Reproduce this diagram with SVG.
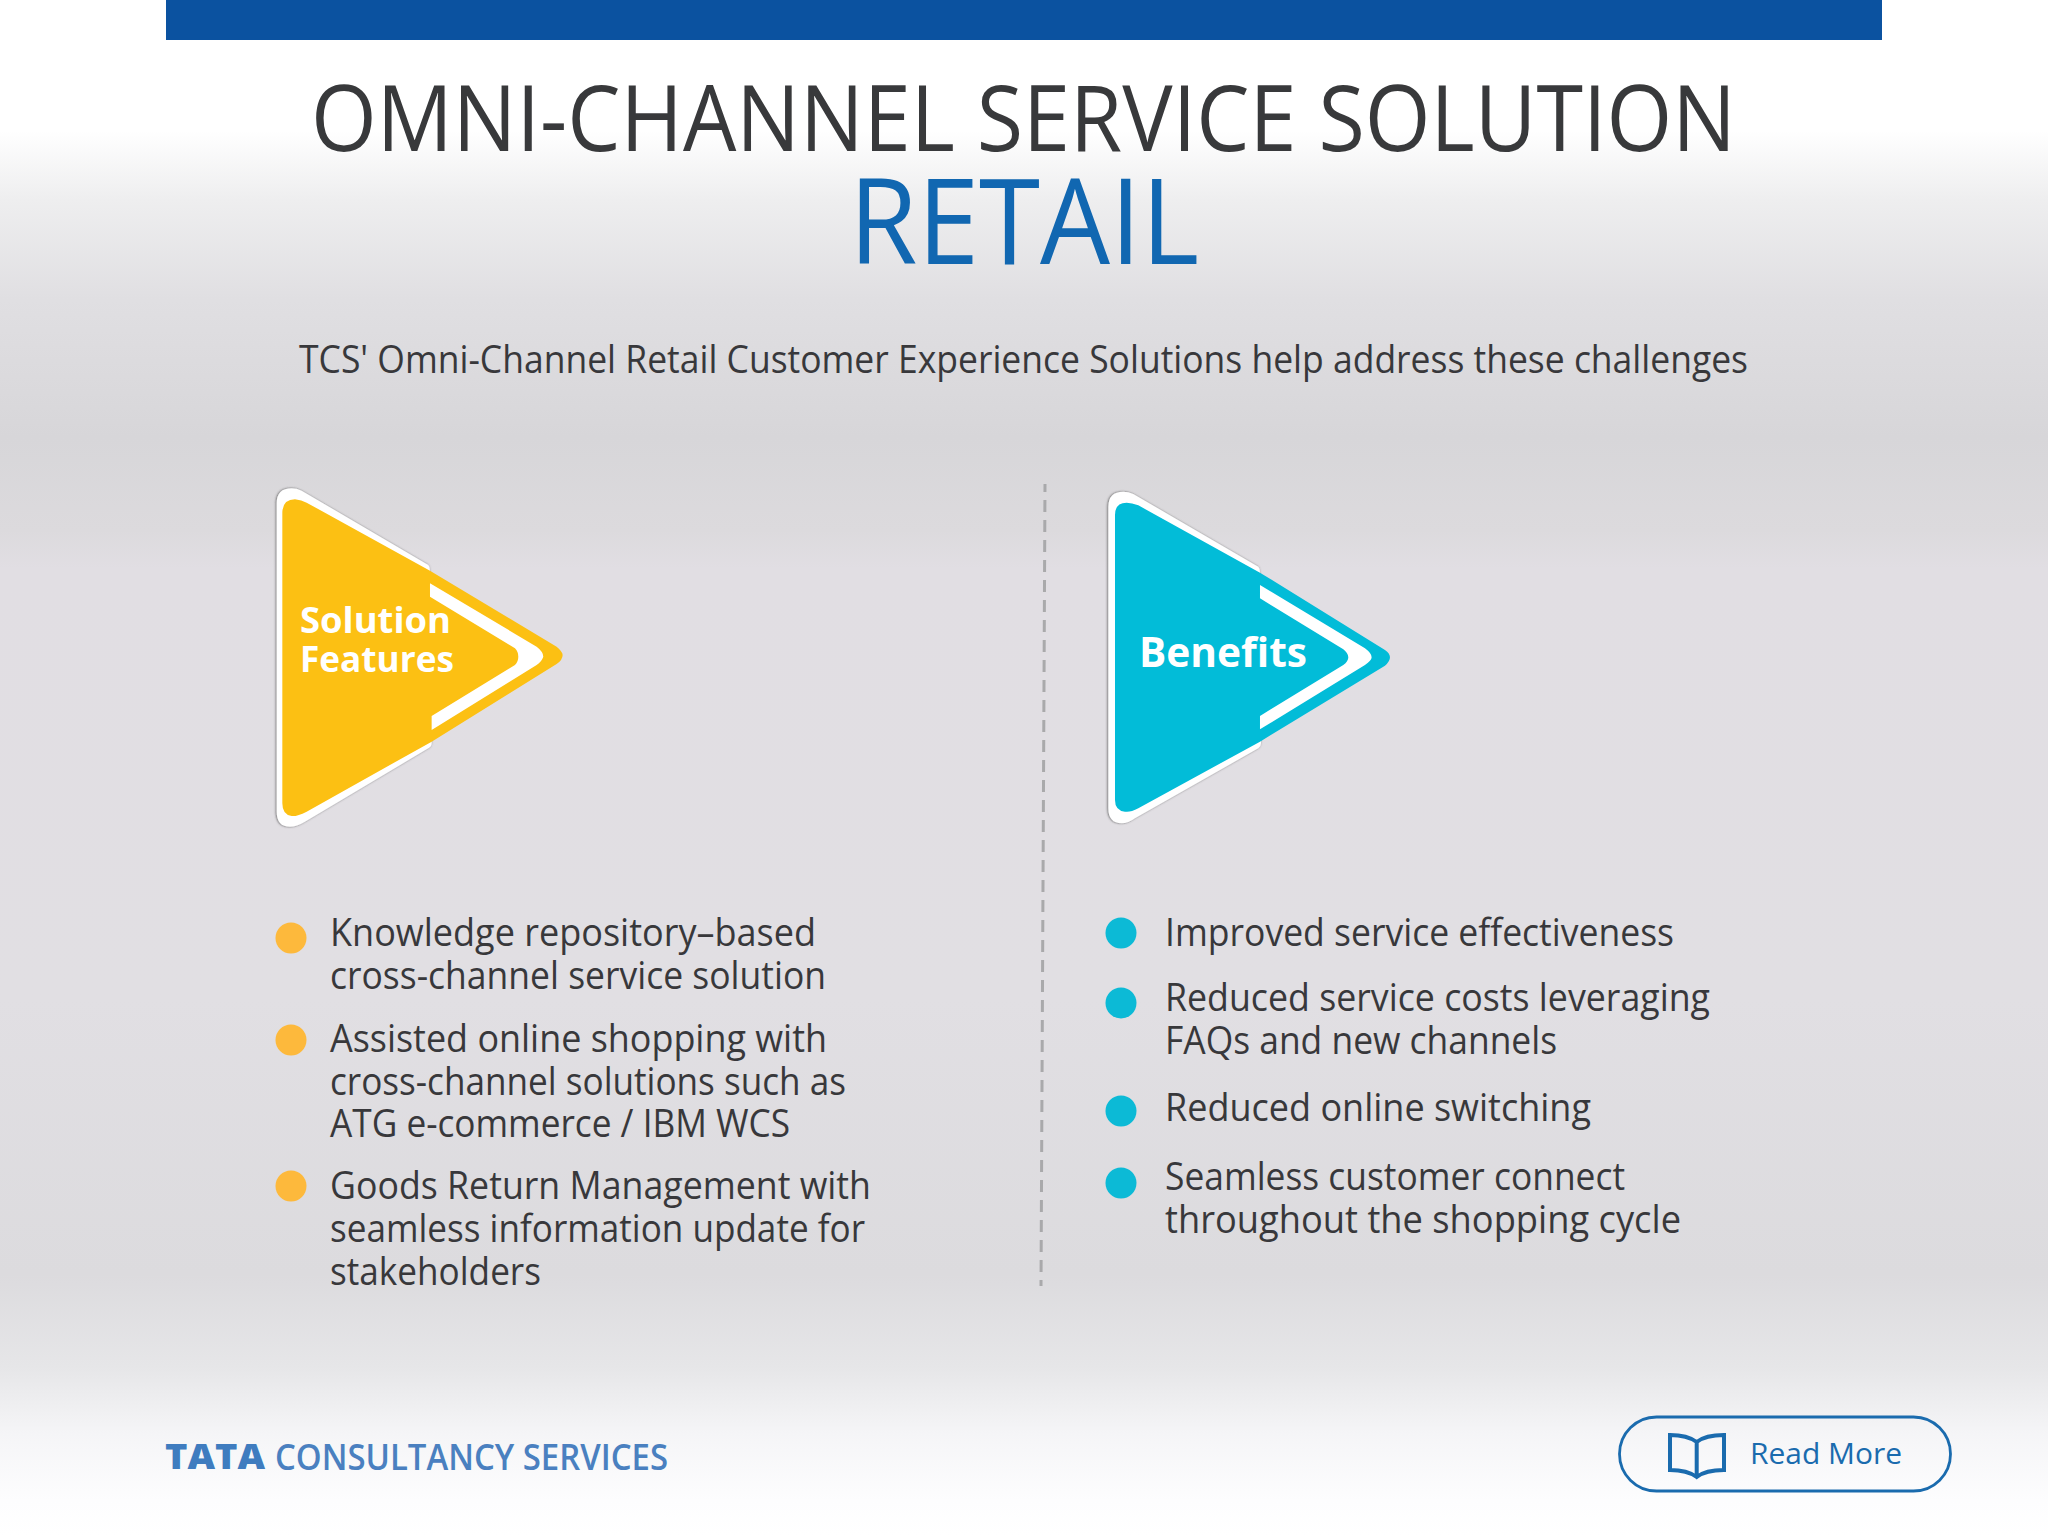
<svg xmlns="http://www.w3.org/2000/svg" width="2048" height="1536" viewBox="0 0 2048 1536">
<style>
text{font-family:"Open Sans","Noto Sans","Liberation Sans",sans-serif}
.body{font-size:38px;fill:#38383b}
.tag{font-weight:700;fill:#fff}
.white{fill:#fff;filter:url(#edge)}
.ybul{fill:#fdb93c}
.cbul{fill:#0cbad6}
</style>
<defs>
<linearGradient id="bg" gradientUnits="userSpaceOnUse" x1="0" y1="0" x2="0" y2="1536">
<stop offset="0" stop-color="#fff"/>
<stop offset="0.085" stop-color="#fff"/>
<stop offset="0.13" stop-color="#eeeeef"/>
<stop offset="0.195" stop-color="#e0dfe2"/>
<stop offset="0.285" stop-color="#d7d6d9"/>
<stop offset="0.345" stop-color="#dcdadd"/>
<stop offset="0.37" stop-color="#e1dee3"/>
<stop offset="0.65" stop-color="#e1dfe3"/>
<stop offset="0.83" stop-color="#dcdbde"/>
<stop offset="0.89" stop-color="#e6e6e8"/>
<stop offset="0.933" stop-color="#f5f5f7"/>
<stop offset="0.977" stop-color="#fdfdfe"/>
<stop offset="1" stop-color="#fff"/>
</linearGradient>
<filter id="edge" x="-5%" y="-5%" width="110%" height="110%"><feDropShadow dx="-2" dy="0" stdDeviation="3.5" flood-color="#444" flood-opacity="0.85"/></filter>
</defs>
<rect id="background" width="2048" height="1536" fill="url(#bg)"/>
<rect id="top-bar" x="166" y="0" width="1716" height="40" fill="#0b52a0"/>
<g id="heading">
<text x="311" y="151" font-size="91" fill="#38393b" textLength="1425" lengthAdjust="spacingAndGlyphs">OMNI-CHANNEL SERVICE SOLUTION</text>
<text x="849" y="264" font-size="119" fill="#1167b1" textLength="350" lengthAdjust="spacingAndGlyphs">RETAIL</text>
<text x="299" y="373" font-size="38" fill="#38383b" textLength="1449" lengthAdjust="spacingAndGlyphs">TCS' Omni-Channel Retail Customer Experience Solutions help address these challenges</text>
</g>
<g id="connectors">
<line x1="1045" y1="484" x2="1041" y2="1286" stroke="#a9a9ab" stroke-width="3" stroke-dasharray="12 8" stroke-dashoffset="4"/>
</g>
<g id="solution-features">
<g transform="translate(240 450) scale(.3333)">
<path class="white" d="M110 160Q110 115 155 115Q170 115 185 122L565 345Q570 350 570 362L575 880Q575 890 565 895L195 1115Q170 1130 150 1130Q110 1130 110 1085Z"/>
<path fill="#fcc013" d="M127 190Q127 148 165 148Q185 150 200 158L570 362L950 590Q968 605 968 615Q968 630 950 642L575 875L200 1085Q170 1100 155 1098Q127 1095 127 1060Z"/>
<path fill="#fff" d="M570 400L890 590Q910 605 910 620Q905 635 890 645L575 840L575 798L825 645Q835 635 835 620Q835 605 825 595L570 440Z"/>
</g>
<text class="tag" x="300" y="633" font-size="35" textLength="151" lengthAdjust="spacingAndGlyphs">Solution</text>
<text class="tag" x="300" y="672" font-size="35" textLength="154" lengthAdjust="spacingAndGlyphs">Features</text>
</g>
<g id="benefits">
<g transform="translate(1080 450) scale(.3333)">
<path class="white" d="M85 170Q85 125 130 125Q145 125 160 132L535 350Q540 355 540 367L543 880Q543 890 535 895L165 1105Q145 1120 125 1120Q85 1120 85 1075Z"/>
<path fill="#02bcd8" d="M105 195Q105 158 140 158Q155 158 175 166L540 368L915 600Q930 610 930 622Q930 635 915 647L540 875L175 1075Q150 1088 135 1085Q105 1082 105 1050Z"/>
<path fill="#fff" d="M540 405L855 595Q875 610 875 622Q875 632 855 645L540 838L540 798L790 645Q805 635 805 622Q805 610 790 598L540 445Z"/>
</g>
<text class="tag" x="1139" y="667" font-size="42" textLength="168" lengthAdjust="spacingAndGlyphs">Benefits</text>
</g>
<g id="feature-list">
<circle class="ybul" cx="291" cy="938" r="15.5"/>
<circle class="ybul" cx="291" cy="1040" r="15.5"/>
<circle class="ybul" cx="291" cy="1186" r="15.5"/>
<text class="body" x="330" y="946" textLength="486" lengthAdjust="spacingAndGlyphs">Knowledge repository–based</text>
<text class="body" x="330" y="989" textLength="496" lengthAdjust="spacingAndGlyphs">cross-channel service solution</text>
<text class="body" x="330" y="1052" textLength="497" lengthAdjust="spacingAndGlyphs">Assisted online shopping with</text>
<text class="body" x="330" y="1095" textLength="516" lengthAdjust="spacingAndGlyphs">cross-channel solutions such as</text>
<text class="body" x="330" y="1137" textLength="460" lengthAdjust="spacingAndGlyphs">ATG e-commerce / IBM WCS</text>
<text class="body" x="330" y="1199" textLength="541" lengthAdjust="spacingAndGlyphs">Goods Return Management with</text>
<text class="body" x="330" y="1242" textLength="535" lengthAdjust="spacingAndGlyphs">seamless information update for</text>
<text class="body" x="330" y="1285" textLength="211" lengthAdjust="spacingAndGlyphs">stakeholders</text>
</g>
<g id="benefit-list">
<circle class="cbul" cx="1121" cy="933" r="15.5"/>
<circle class="cbul" cx="1121" cy="1003" r="15.5"/>
<circle class="cbul" cx="1121" cy="1111" r="15.5"/>
<circle class="cbul" cx="1121" cy="1183" r="15.5"/>
<text class="body" x="1165" y="946" textLength="509" lengthAdjust="spacingAndGlyphs">Improved service effectiveness</text>
<text class="body" x="1165" y="1011" textLength="545" lengthAdjust="spacingAndGlyphs">Reduced service costs leveraging</text>
<text class="body" x="1165" y="1054" textLength="392" lengthAdjust="spacingAndGlyphs">FAQs and new channels</text>
<text class="body" x="1165" y="1121" textLength="426" lengthAdjust="spacingAndGlyphs">Reduced online switching</text>
<text class="body" x="1165" y="1190" textLength="460" lengthAdjust="spacingAndGlyphs">Seamless customer connect</text>
<text class="body" x="1165" y="1233" textLength="516" lengthAdjust="spacingAndGlyphs">throughout the shopping cycle</text>
</g>
<g id="footer-logo">
<text x="165" y="1469" font-size="35" font-weight="800" fill="#3f7cbf" textLength="100" lengthAdjust="spacingAndGlyphs">TATA</text>
<text x="275" y="1470" font-size="36" font-weight="600" fill="#4a80c0" textLength="393" lengthAdjust="spacingAndGlyphs">CONSULTANCY SERVICES</text>
</g>
<g id="read-more">
<rect x="1619.5" y="1417" width="331" height="74" rx="37" fill="none" stroke="#1a6bae" stroke-width="2.8"/>
<path d="M1670 1435C1680 1435 1690 1437 1696.7 1442C1703 1437 1714 1435 1724 1435V1470C1714 1470 1703 1472 1696.7 1477C1690 1472 1680 1470 1670 1470ZM1696.7 1442V1477" fill="none" stroke="#1a6bae" stroke-width="4"/>
<text x="1750" y="1464" font-size="30" fill="#1a6bae" textLength="152" lengthAdjust="spacingAndGlyphs">Read More</text>
</g>
</svg>
